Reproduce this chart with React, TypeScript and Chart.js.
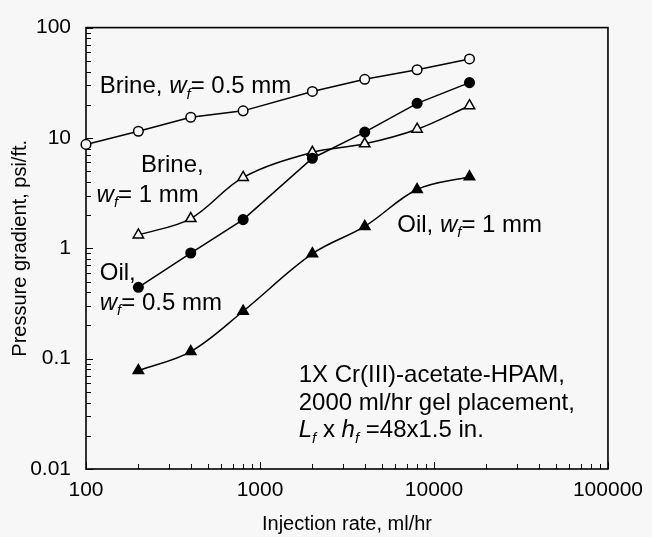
import React, { useEffect, useRef } from "react";
import { Chart, registerables } from "chart.js";

Chart.register(...registerables);

// ---- data ----
const injectionRates = [200, 400, 800, 2000, 4000, 8000, 16000];
const brineHalfRates = [100, 200, 400, 800, 2000, 4000, 8000, 16000];
const brineHalfMm = [8.74, 11.5, 15.4, 17.6, 26.4, 34.0, 41.5, 52.0];
const oilHalfMm = [0.443, 0.906, 1.82, 6.55, 11.3, 20.6, 31.7];
const brineOneMm = [1.32, 1.86, 4.39, 7.41, 8.85, 12.0, 19.6];
const oilOneMm = [0.078, 0.116, 0.269, 0.893, 1.58, 3.41, 4.45];

const xTicks = [100, 1000, 10000, 100000];
const yTicks = [0.01, 0.1, 1, 10, 100];

const xTitle = "Injection rate, ml/hr";
const yTitle = "Pressure gradient, psi/ft.";

type Seg = [string, "n" | "i" | "s"];
// annotation anchors in data coordinates (left edge, baseline)
const annotations: { x: number; y: number; segs: Seg[] }[] = [
  { x: 120, y: 25.3, segs: [["Brine, ", "n"], ["w", "i"], ["f", "s"], ["= 0.5 mm", "n"]] },
  { x: 207, y: 4.9, segs: [["Brine,", "n"]] },
  { x: 115, y: 2.65, segs: [["w", "i"], ["f", "s"], ["= 1 mm", "n"]] },
  { x: 120, y: 0.514, segs: [["Oil,", "n"]] },
  { x: 120, y: 0.2775, segs: [["w", "i"], ["f", "s"], ["= 0.5 mm", "n"]] },
  { x: 6150, y: 1.4, segs: [["Oil, ", "n"], ["w", "i"], ["f", "s"], ["= 1 mm", "n"]] },
  { x: 1670, y: 0.0608, segs: [["1X Cr(III)-acetate-HPAM,", "n"]] },
  { x: 1670, y: 0.0342, segs: [["2000 ml/hr gel placement,", "n"]] },
  { x: 1670, y: 0.0193, segs: [["L", "i"], ["f", "s"], [" x ", "n"], ["h", "i"], ["f", "s"], [" =48x1.5 in.", "n"]] },
];

const FONT = "'Liberation Sans', Arial, Helvetica, sans-serif";
const BG = "#f7f7f7";
const ANN_SIZE = 24;
const TICK_SIZE = 21;
const TITLE_SIZE = 20;

const toPoints = (xs: number[], ys: number[]) => ys.map((y, i) => ({ x: xs[i], y }));

const framePlugin = {
  id: "frame",
  beforeDatasetsDraw(chart: any) {
    const { ctx, chartArea: a, scales } = chart;
    ctx.save();
    ctx.strokeStyle = "#000";
    ctx.lineWidth = 1.6;
    ctx.strokeRect(a.left, a.top, a.right - a.left, a.bottom - a.top);
    ctx.lineWidth = 1;
    ctx.beginPath();
    xTicks.forEach((base, d) => {
      for (let m = 1; m <= 9; m++) {
        if (d === xTicks.length - 1 && m > 1) break;
        const px = Math.round(scales.x.getPixelForValue(base * m)) + 0.5;
        const len = m === 1 ? 7 : 5;
        ctx.moveTo(px, a.bottom);
        ctx.lineTo(px, a.bottom - len);
      }
    });
    yTicks.forEach((base, d) => {
      for (let m = 1; m <= 9; m++) {
        if (d === yTicks.length - 1 && m > 1) break;
        const py = Math.round(scales.y.getPixelForValue(base * m)) + 0.5;
        const len = m === 1 ? 7 : 5;
        ctx.moveTo(a.left, py);
        ctx.lineTo(a.left + len, py);
      }
    });
    ctx.stroke();
    ctx.restore();
  },
  afterDraw(chart: any) {
    const { ctx, scales } = chart;
    ctx.save();
    ctx.fillStyle = "#000";
    ctx.textBaseline = "alphabetic";
    ctx.textAlign = "left";
    annotations.forEach((an) => {
      let x = scales.x.getPixelForValue(an.x);
      const y = scales.y.getPixelForValue(an.y);
      an.segs.forEach(([t, s]) => {
        if (s === "n") ctx.font = `${ANN_SIZE}px ${FONT}`;
        else if (s === "i") ctx.font = `italic ${ANN_SIZE}px ${FONT}`;
        else ctx.font = `italic ${Math.round(ANN_SIZE * 0.62)}px ${FONT}`;
        const dy = s === "s" ? ANN_SIZE * 0.22 : 0;
        ctx.fillText(t, x, y + dy);
        x += ctx.measureText(t).width;
      });
    });
    ctx.restore();
  },
};

export default function App() {
  const ref = useRef<HTMLCanvasElement>(null);
  useEffect(() => {
    const lineBase = { borderColor: "#000", borderWidth: 1.5, clip: false as any, pointBorderColor: "#000", pointBorderWidth: 1.5 };
    const chart = new Chart(ref.current!, {
      type: "line",
      data: {
        datasets: [
          { ...lineBase, label: "Brine, wf = 0.5 mm", data: toPoints(brineHalfRates, brineHalfMm), pointStyle: "circle", pointRadius: 4.8, pointBackgroundColor: BG, tension: 0 },
          { ...lineBase, label: "Oil, wf = 0.5 mm", data: toPoints(injectionRates, oilHalfMm), pointStyle: "circle", pointRadius: 4.8, pointBackgroundColor: "#000", tension: 0 },
          { ...lineBase, label: "Brine, wf = 1 mm", data: toPoints(injectionRates, brineOneMm), pointStyle: "triangle", pointRadius: 6, pointBackgroundColor: BG, tension: 0.35 },
          { ...lineBase, label: "Oil, wf = 1 mm", data: toPoints(injectionRates, oilOneMm), pointStyle: "triangle", pointRadius: 6, pointBackgroundColor: "#000", tension: 0.35 },
        ] as any,
      },
      options: {
        animation: false,
        responsive: false,
        devicePixelRatio: 1,
        layout: { padding: { left: 0, right: 36, top: 20, bottom: 0 } },
        plugins: { legend: { display: false }, tooltip: { enabled: false } },
        scales: {
          x: {
            type: "logarithmic",
            position: "bottom",
            min: 100,
            max: 100000,
            grid: { display: false, drawTicks: false },
            border: { display: false },
            ticks: { color: "#000", font: { family: FONT, size: TICK_SIZE }, padding: 9, maxRotation: 0, autoSkip: false, callback: (v: any) => String(v) },
            afterBuildTicks: (s: any) => { s.ticks = xTicks.map((v) => ({ value: v })); },
            afterFit: (s: any) => { s.height = 68; },
            title: { display: true, text: xTitle, color: "#000", font: { family: FONT, size: TITLE_SIZE }, padding: { top: 0, bottom: 1 } },
          },
          y: {
            type: "logarithmic",
            position: "left",
            min: 0.01,
            max: 100,
            grid: { display: false, drawTicks: false },
            border: { display: false },
            ticks: { color: "#000", font: { family: FONT, size: TICK_SIZE }, padding: 15, autoSkip: false, callback: (v: any) => String(v) },
            afterBuildTicks: (s: any) => { s.ticks = yTicks.map((v) => ({ value: v })); },
            afterFit: (s: any) => { s.width = 86; },
            title: { display: true, text: yTitle, color: "#000", font: { family: FONT, size: TITLE_SIZE }, padding: { top: 8, bottom: 0 } },
          },
        },
      } as any,
      plugins: [framePlugin],
    });
    return () => chart.destroy();
  }, []);
  return (
    <div style={{ position: "absolute", left: 0, top: 0, width: 652, height: 537, background: BG }}>
      <canvas ref={ref} width={652} height={537} style={{ display: "block" }} />
    </div>
  );
}
